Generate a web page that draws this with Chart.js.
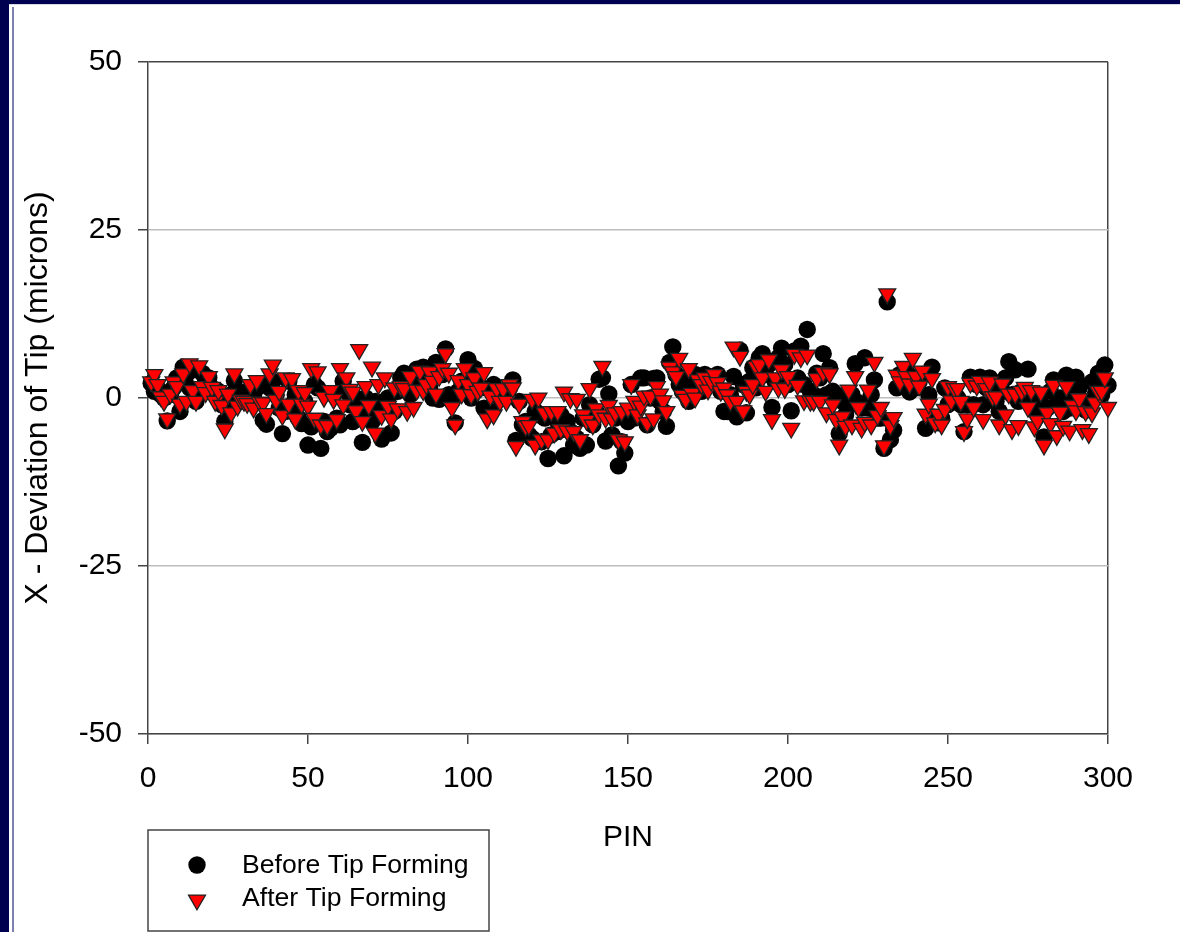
<!DOCTYPE html>
<html>
<head>
<meta charset="utf-8">
<title>X - Deviation of Tip</title>
<script src="https://cdn.jsdelivr.net/npm/chart.js@4"></script>
<style>
    html, body { margin: 0; padding: 0; width: 1180px; height: 932px; overflow: hidden; background: #000050; }
    #frame { position: absolute; left: 9px; top: 4px; right: 0; bottom: 0; background: #fff; border-top: 1px solid #d8d8e8; }
    #frame:before { content: ""; position: absolute; left: 3px; top: 2px; bottom: 0; width: 2px; background: #8080b0; }
    canvas { position: absolute; left: 0; top: 0; }
</style>
</head>
<body>
<div id="frame"></div>
<canvas id="chart" width="1180" height="932"></canvas>
<script>
const seriesNames = ["Before Tip Forming", "After Tip Forming"];
const xTicks = [0, 50, 100, 150, 200, 250, 300];
const yTicks = [-50, -25, 0, 25, 50];

// one value per pin, pin 1 first
const beforeForming = [
    2.2, 1.0, 1.5, 0.5, 0.0, -3.4, 0.5, 1.5, 3.0, -2.0,
    4.6, 3.5, 1.5, 4.2, -0.5, 1.0, 3.7, 2.5, 3.0, 1.5,
    0.5, 1.0, -1.0, -3.5, -0.5, 0.5, 2.6, 1.0, -0.5, 0.0,
    1.0, -0.5, 0.5, 1.5, 2.0, -3.3, -3.9, 1.5, 2.5, 0.5,
    -1.5, -5.3, -2.0, 2.5, -1.0, 0.5, -3.0, -3.8, -0.5, -7.0,
    -4.3, 2.0, 1.5, -7.5, -3.5, -5.0, -4.5, 0.5, -3.0, -4.0,
    2.5, 1.0, -1.0, -3.5, 0.0, -3.0, -6.6, 0.0, -2.5, -3.5,
    -0.5, -1.5, -6.1, -0.5, 0.0, -5.2, -2.0, 1.0, 3.0, 3.7,
    3.0, 0.5, 1.5, 4.3, 2.0, 4.6, 3.0, 1.5, 0.0, 5.3,
    -0.2, 3.5, 7.3, 0.5, -0.5, -3.7, 1.0, 2.5, 2.0, 5.7,
    0.0, 4.4, 3.0, 1.5, -1.5, -1.8, -2.0, 2.0, 1.0, 0.0,
    1.0, 0.5, 1.5, 2.7, -6.3, -0.5, -4.0, -3.5, -5.5, -6.0,
    -2.0, -2.5, -6.5, -3.0, -9.0, -5.5, -3.0, -5.0, -2.5, -8.6,
    -3.5, -5.0, -7.0, -6.0, -7.5, -3.0, -7.0, -1.0, -4.0, -2.0,
    2.8, 3.0, -6.4, 0.6, -5.5, -3.0, -10.1, -6.5, -8.2, -3.5,
    2.0, -3.0, -1.0, 3.0, 3.0, -4.0, 0.0, 2.9, 3.0, -0.5,
    -2.0, -4.2, 5.3, 7.6, 3.5, 2.0, 1.0, 3.0, -0.5, 1.5,
    3.5, 3.0, 1.0, 3.5, 2.5, 2.0, 3.0, 3.5, 1.0, -2.0,
    -2.0, 0.5, 3.2, -2.8, 7.1, 2.0, -2.2, 2.5, 4.5, 1.5,
    6.0, 6.6, 3.5, 5.0, -1.4, 2.5, 6.0, 7.4, 5.0, 2.0,
    -1.9, 7.0, 3.0, 7.7, 2.0, 10.2, 1.0, 0.5, 3.7, 3.0,
    6.6, 0.5, 4.5, 1.0, 0.5, -5.3, -0.5, -2.5, -1.0, 0.5,
    5.1, -0.7, -1.5, 6.0, -1.5, 0.5, 2.7, -3.0, -3.0, -7.5,
    14.3, -6.2, -4.8, 1.5, 3.5, 2.5, 4.0, 0.9, 3.0, 1.5,
    2.5, 3.5, -4.5, 0.5, 4.6, -3.0, -3.7, -3.0, 1.5, -1.0,
    0.5, 1.0, 0.0, -1.0, -5.0, -1.0, 3.1, -1.0, 2.0, 3.1,
    -1.0, 1.5, 3.0, 1.0, -0.5, -2.0, 1.0, 3.0, 5.4, 0.5,
    4.2, -0.5, 1.0, 0.5, 4.3, 0.5, -1.5, -2.5, 0.4, -5.8,
    -1.5, 1.0, 2.7, -1.0, 0.0, -2.0, 3.4, -1.5, 0.5, 3.1,
    1.5, -1.0, -1.8, -1.0, 2.4, 0.5, 3.7, 0.5, 4.9, 1.9
];
const afterForming = [
    2.4, 3.5, 2.0, 0.2, -0.5, -3.1, 0.6, 2.4, 1.7, -0.9,
    3.6, -0.5, 5.1, 1.1, -0.5, 4.8, 1.7, 0.8, 3.2, 1.6,
    -0.5, 1.1, -1.1, -4.6, 0.6, -2.2, 3.6, -1.2, -0.3, -0.5,
    -0.8, 2.0, -1.5, 2.6, -0.6, -0.7, -2.3, 3.6, 4.9, -0.3,
    1.0, -2.6, 3.0, -0.9, 2.9, -3.1, 1.1, -0.9, 0.8, -1.2,
    4.4, -3.0, 3.9, -4.0, 0.1, -4.1, 1.1, -0.2, -3.2, 4.4,
    -1.0, 3.0, 1.3, 0.9, -1.9, 7.2, -3.5, 1.7, -1.1, 4.6,
    -5.2, 2.0, -2.6, 3.0, -1.2, -3.1, 1.5, -1.6, 1.7, 1.4,
    -2.0, 3.2, -1.4, 1.2, 4.0, 1.1, 2.0, 3.9, 2.5, 0.6,
    3.2, 4.4, 6.6, 3.7, -1.4, -4.0, 2.6, 0.6, 4.4, 2.0,
    0.5, 3.0, 1.0, 1.5, 3.8, -3.1, 0.3, -2.5, 1.4, -0.5,
    1.4, -0.5, 2.0, 1.5, -7.2, -0.9, -3.5, -4.2, -4.1, -0.2,
    -7.0, 0.0, -6.2, -2.2, -6.2, -2.0, -5.2, -2.0, -4.7, 0.9,
    -4.9, -0.1, -5.0, -0.2, -6.2, -2.5, -3.3, 1.4, -4.0, -1.6,
    -2.5, 4.7, -3.0, -1.1, -3.1, -2.2, -6.2, -2.0, -6.5, -1.5,
    2.0, -0.5, -2.5, -1.2, 0.3, -3.7, 0.3, -3.1, 1.7, 0.6,
    -0.4, -2.0, 4.6, 3.9, 3.2, 5.9, 0.4, -0.2, 4.4, 0.7,
    0.0, 2.7, 2.0, 3.0, 1.2, 2.5, 3.5, 2.3, 1.0, 1.5,
    0.5, -0.5, 7.6, -0.5, 6.2, -1.9, 1.0, 0.5, 2.0, 4.7,
    5.0, 3.0, 1.0, 5.7, -3.2, 3.0, 1.5, 4.2, 1.4, 3.2,
    -4.5, 6.5, 1.9, 6.0, -0.4, 6.4, -0.5, -0.5, 2.9, -0.5,
    3.8, -2.2, 3.6, -1.0, -3.2, -7.0, -2.8, -4.2, 1.2, -4.0,
    3.2, -1.4, -4.5, -3.6, 1.2, -4.0, 5.3, -2.6, -1.4, -7.1,
    15.5, -4.1, -2.9, 3.4, 2.4, 4.7, 3.2, 2.1, 5.9, 3.2,
    1.8, 4.0, -2.4, -0.9, 2.9, -3.7, -2.4, -4.0, -1.7, 1.7,
    -0.4, 1.4, 1.4, -0.5, -5.0, -3.1, 2.2, -1.4, 1.8, 2.5,
    -3.2, 1.4, 2.4, 0.2, 0.2, -4.0, 2.1, -2.5, 0.6, -4.7,
    0.6, -4.1, 1.0, 1.6, -1.4, 1.1, -4.3, -3.4, 0.9, -7.0,
    -2.2, -3.8, 1.9, -5.6, -2.1, -4.2, 1.7, -4.9, -1.1, -1.9,
    -0.1, -4.7, -2.0, -5.3, -2.2, -0.7, 1.0, 1.0, 3.0, -1.4
];

const toPoints = values => values.map((v, i) => ({ x: i + 1, y: v }));

const axisDark = "#444444";
const gridGrey = "#bdbdbd";
const fontFamily = "'Liberation Sans', Arial, sans-serif";
const tickFont = { family: fontFamily, size: 30 };
const yTitleFont = { family: fontFamily, size: 32 };

// legend sits in its own box below the axis, away from the chart area
const boxedLegend = {
    id: "boxedLegend",
    afterDraw(chart) {
        const ctx = chart.ctx;
        ctx.save();
        ctx.strokeStyle = axisDark;
        ctx.lineWidth = 1.5;
        ctx.fillStyle = "#fff";
        ctx.fillRect(148, 830, 341, 101);
        ctx.strokeRect(148, 830, 341, 101);
        const rows = [865, 898];
        chart.data.datasets.forEach((ds, i) => {
            ctx.fillStyle = ds.backgroundColor;
            ctx.strokeStyle = ds.borderColor;
            ctx.lineWidth = ds.borderWidth;
            Chart.helpers.drawPoint(ctx, {
                pointStyle: ds.pointStyle,
                rotation: ds.rotation || 0,
                radius: ds.pointRadius,
                borderWidth: ds.borderWidth
            }, 197, rows[i] + (i ? 2 : 0));
            ctx.fillStyle = "#000";
            ctx.font = "26.6px " + fontFamily;
            ctx.textBaseline = "middle";
            ctx.fillText(ds.label, 242, rows[i] + 1);
        });
        ctx.restore();
    }
};

new Chart(document.getElementById("chart"), {
    type: "scatter",
    data: {
        datasets: [
            {
                label: seriesNames[0],
                data: toPoints(beforeForming),
                pointStyle: "circle",
                pointRadius: 8.7,
                backgroundColor: "#000000",
                borderColor: "#000000",
                borderWidth: 0,
                order: 2
            },
            {
                label: seriesNames[1],
                data: toPoints(afterForming),
                pointStyle: "triangle",
                rotation: 180,
                pointRadius: 9.8,
                backgroundColor: "#ff0000",
                borderColor: "#222222",
                borderWidth: 1.3,
                order: 1
            }
        ]
    },
    options: {
        responsive: false,
        animation: false,
        clip: false,
        layout: { padding: { left: 19, right: 72, top: 62, bottom: 0 } },
        plugins: { legend: { display: false }, tooltip: { enabled: false } },
        scales: {
            x: {
                type: "linear",
                min: 0,
                max: 300,
                afterBuildTicks: axis => { axis.ticks = xTicks.map(value => ({ value })); },
                afterFit: axis => { axis.height = 198; },
                border: { color: axisDark, width: 1.5 },
                grid: {
                    color: c => (c.tick && c.tick.value === 300 ? axisDark : "rgba(0,0,0,0)"),
                    lineWidth: 1.5,
                    tickColor: axisDark,
                    tickLength: 10
                },
                ticks: { color: "#000", font: tickFont, padding: 17, maxRotation: 0 },
                title: { display: true, text: "PIN", color: "#000", font: tickFont, padding: { top: 22, bottom: 76 } }
            },
            y: {
                type: "linear",
                min: -50,
                max: 50,
                afterBuildTicks: axis => { axis.ticks = yTicks.map(value => ({ value })); },
                afterFit: axis => { axis.width = 129; },
                border: { color: axisDark, width: 1.5 },
                grid: {
                    color: c => (c.tick && c.tick.value === 50 ? axisDark : gridGrey),
                    lineWidth: 1.5,
                    tickColor: axisDark,
                    tickLength: 10
                },
                ticks: { color: "#000", font: tickFont, padding: 16 },
                title: { display: true, text: "X - Deviation of Tip (microns)", color: "#000", font: yTitleFont, padding: 0 }
            }
        }
    },
    plugins: [boxedLegend]
});
</script>
</body>
</html>
